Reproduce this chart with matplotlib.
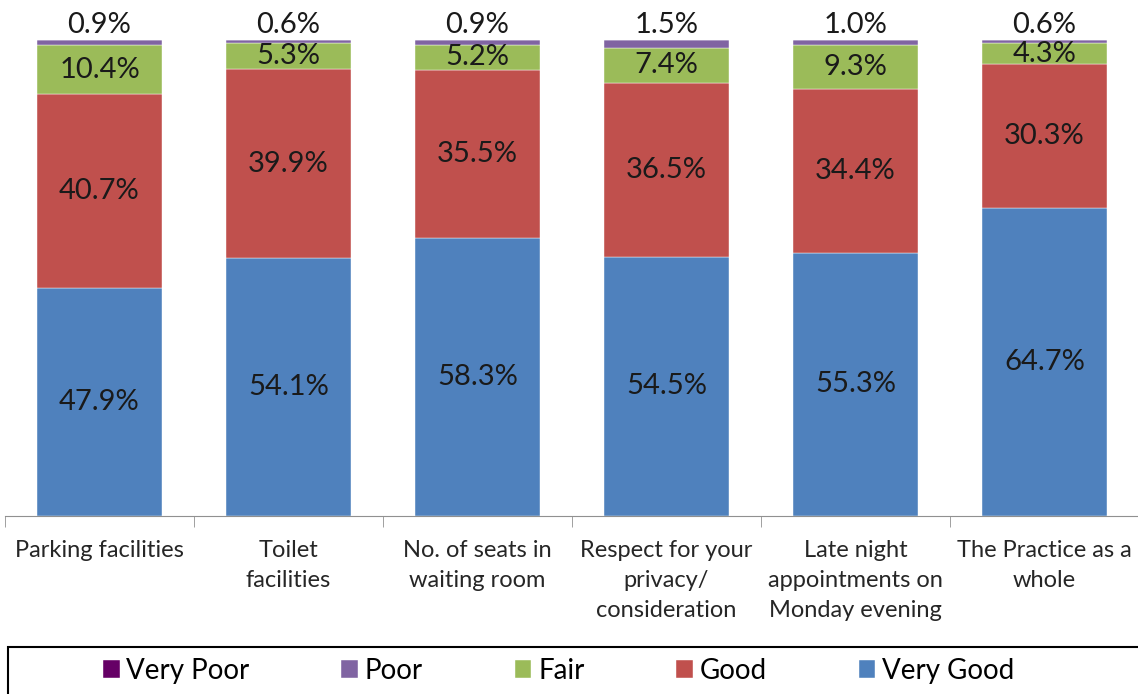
import numpy as np
import matplotlib.pyplot as plt
from matplotlib.patches import Rectangle

# dati
categorie = ["Parking facilities", "Toilet\nfacilities", "No. of seats in\nwaiting room",
             "Respect for your\nprivacy/\nconsideration", "Late night\nappointments on\nMonday evening",
             "The Practice as a\nwhole"]
very_good = [47.9, 54.1, 58.3, 54.5, 55.3, 64.7]
good = [40.7, 39.9, 35.5, 36.5, 34.4, 30.3]
fair = [10.4, 5.3, 5.2, 7.4, 9.3, 4.3]
poor = [0.9, 0.6, 0.9, 1.5, 1.0, 0.6]
very_poor = [0.0, 0.0, 0.0, 0.0, 0.0, 0.0]

serie = ["Very Poor", "Poor", "Fair", "Good", "Very Good"]
colori = {"Very Poor": "#660066", "Poor": "#8064A2", "Fair": "#9BBB59",
          "Good": "#C0504D", "Very Good": "#4F81BD"}

plt.rcParams['font.family'] = ['Lato', 'DejaVu Sans']

fig = plt.figure(figsize=(11.38, 6.94), dpi=100)
ax = fig.add_axes([5/1138, 1-516/694, 1134/1138, 476/694])

x = np.arange(len(categorie))
w = 0.66
valori = {"Very Good": very_good, "Good": good, "Fair": fair, "Poor": poor, "Very Poor": very_poor}
bottom = np.zeros(len(categorie))
handles = {}
for nome in ["Very Good", "Good", "Fair", "Poor", "Very Poor"]:
    v = np.array(valori[nome])
    h = ax.bar(x, v, w, bottom=bottom, color=colori[nome], edgecolor='white', linewidth=0.3)
    handles[nome] = h
    for i in range(len(x)):
        if nome in ("Very Good", "Good", "Fair"):
            ax.text(x[i], bottom[i] + v[i]/2, "%.1f%%" % v[i], ha='center', va='center',
                    fontsize=21, color='#1a1a1a')
        elif nome == "Poor":
            ax.text(x[i], bottom[i] + v[i] + 0.5, "%.1f%%" % v[i], ha='center', va='bottom',
                    fontsize=21, color='#1a1a1a')
    bottom = bottom + v

ax.set_xlim(-0.5, len(categorie) - 0.5)
ax.set_ylim(0, 100)
for s in ["top", "right", "left"]:
    ax.spines[s].set_visible(False)
ax.spines["bottom"].set_color("#909090")
ax.set_yticks([])
ax.set_xticks(x)
ax.set_xticklabels(categorie, fontsize=17, color='#262626', va='top', linespacing=1.55)
ax.tick_params(axis='x', which='major', length=0, pad=17)
ax.set_xticks(np.arange(-0.5, len(categorie)), minor=True)
ax.tick_params(axis='x', which='minor', length=8, color="#909090")

# legenda
fig.patches.append(Rectangle((8/1138, -0.05), 1.1, 1-647/694 + 0.05, transform=fig.transFigure,
                             fill=False, edgecolor='black', linewidth=1.5))
fig.legend([handles[n] for n in serie], serie, loc='center', bbox_to_anchor=(0.491, 1-671/694),
           ncol=5, frameon=False, fontsize=20, handlelength=0.6, handleheight=0.6,
           handletextpad=0.25, columnspacing=3.3)

plt.savefig("out.png", dpi=100)
